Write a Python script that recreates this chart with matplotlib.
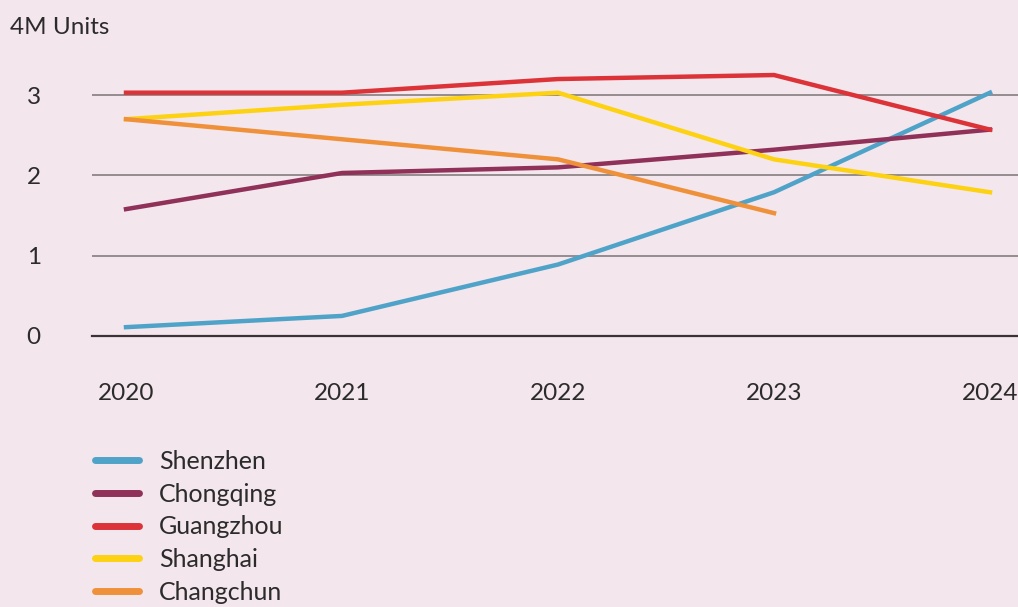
import matplotlib
matplotlib.use('Agg')
import matplotlib.pyplot as plt
from matplotlib.lines import Line2D

years = [2020, 2021, 2022, 2023, 2024]
shenzhen = [0.11, 0.25, 0.89, 1.79, 3.03]
chongqing = [1.58, 2.03, 2.10, 2.32, 2.57]
guangzhou = [3.03, 3.03, 3.20, 3.25, 2.57]
shanghai = [2.70, 2.88, 3.03, 2.20, 1.79]
changchun = [2.70, 2.45, 2.20, 1.53]

series = [
    ('Shenzhen', years, shenzhen, '#4fa3c8'),
    ('Chongqing', years, chongqing, '#8f3159'),
    ('Guangzhou', years, guangzhou, '#db3338'),
    ('Shanghai', years, shanghai, '#fcd213'),
    ('Changchun', years[:4], changchun, '#ef913a'),
]

bg = '#f4e6ed'
plt.rcParams['font.family'] = ['Lato', 'DejaVu Sans']
plt.rcParams['text.color'] = '#2b2b2b'

W, H = 1018, 607
fig = plt.figure(figsize=(W / 100, H / 100), dpi=100, facecolor=bg)
# axes placed in pixel coords: left 92, right edge, bottom at y=0 line (336px), top 40px
ax = fig.add_axes([92 / W, 1 - 336 / H, 1 - 92 / W, (336 - 40) / H])
ax.set_facecolor(bg)

ax.set_xlim(2020 - 34 / 216, 2024 + 28 / 216)
ax.set_ylim(0, (336 - 40) / 80.3)

for y in [1, 2, 3]:
    ax.axhline(y, color='#7a7476', linewidth=1.1, zorder=1)

for name, xs, ys, c in series:
    ax.plot(xs, ys, color=c, linewidth=3.2, solid_joinstyle='round', zorder=3)

for s in ['top', 'right', 'left']:
    ax.spines[s].set_visible(False)
ax.spines['bottom'].set_color('#3a3335')
ax.spines['bottom'].set_linewidth(1.6)

ax.set_xticks(years)
ax.set_xticklabels([str(y) for y in years])
ax.set_yticks([0, 1, 2, 3])
ax.tick_params(axis='x', length=0, pad=34, labelsize=17.5, labelcolor='#2b2b2b')
ax.tick_params(axis='y', length=0, pad=42, labelsize=17.5, labelcolor='#2b2b2b')
for lab in ax.get_yticklabels():
    lab.set_horizontalalignment('center')

fig.text(10 / W, 1 - 27 / H, '4M Units', fontsize=17.5, va='center', ha='left')

handles = [Line2D([0], [0], color=c, linewidth=5, solid_capstyle='round') for _, _, _, c in series]
labels = [n for n, _, _, _ in series]
fig.legend(handles, labels, loc='upper left', bbox_to_anchor=(95 / W, 1 - 450 / H),
           frameon=False, fontsize=18, handlelength=1.75, handletextpad=0.8,
           labelspacing=0.385, borderaxespad=0, borderpad=0)

fig.savefig('out.png', dpi=100, facecolor=bg)
